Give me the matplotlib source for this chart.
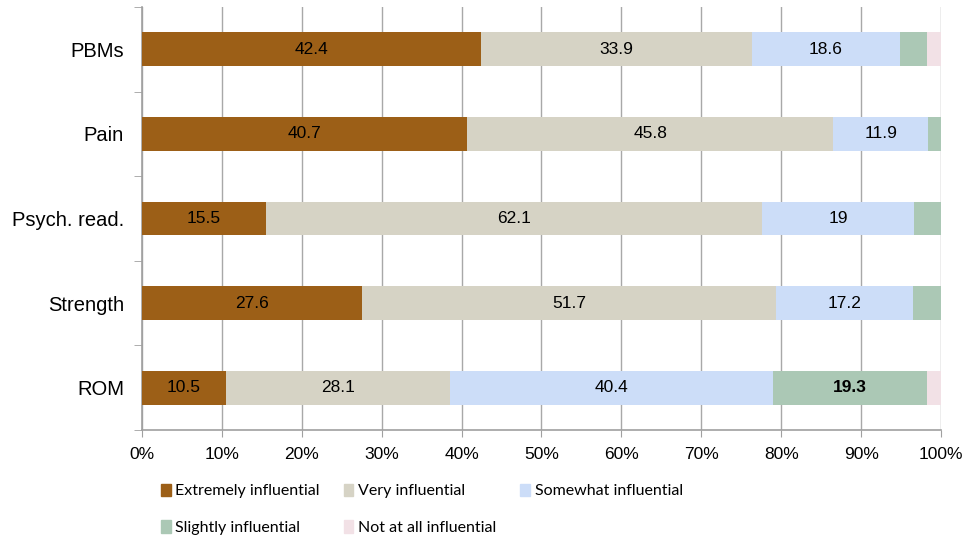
import numpy as np
import matplotlib.pyplot as plt
from matplotlib.patches import Patch

# categories, top to bottom
factors = ['PBMs', 'Pain', 'Psych. read.', 'Strength', 'ROM']
levels = ['Extremely influential', 'Very influential', 'Somewhat influential',
          'Slightly influential', 'Not at all influential']

extremely = [42.4, 40.7, 15.5, 27.6, 10.5]
very = [33.9, 45.8, 62.1, 51.7, 28.1]
somewhat = [18.6, 11.9, 19.0, 17.2, 40.4]
slightly = [3.4, 1.6, 3.4, 3.5, 19.3]
not_at_all = [1.7, 0.0, 0.0, 0.0, 1.7]

colors = ['#9C5F17', '#D6D3C5', '#CCDDF8', '#ABC8B5', '#F2E1E6']

plt.rcParams['font.family'] = ['Liberation Sans', 'DejaVu Sans']

fig = plt.figure(figsize=(9.71, 5.39), dpi=100)
ax = fig.add_axes([0.1462, 0.2022, 0.8229, 0.785])

y = np.arange(len(factors))
left = np.zeros(len(factors))
series = [extremely, very, somewhat, slightly, not_at_all]
for vals, col, name in zip(series, colors, levels):
    vals = np.array(vals)
    ax.barh(y, vals, left=left, height=0.4, color=col, label=name, zorder=3)
    for yi, v, l in zip(y, vals, left):
        if v >= 10:
            bold = name == 'Slightly influential'
            ax.text(l + v / 2, yi, f'{v:g}', ha='center', va='center',
                    fontsize=12.5, fontweight='bold' if bold else 'normal', zorder=4)
    left += vals

ax.set_xlim(0, 100)
ax.set_ylim(4.5, -0.5)
ax.set_xticks(np.arange(0, 101, 10))
ax.set_xticklabels([f'{t}%' for t in range(0, 101, 10)], fontsize=12.5)
ax.set_yticks(y)
ax.set_yticklabels(factors, fontsize=14.5)
ax.set_yticks(np.arange(-0.5, 5, 1), minor=True)
ax.tick_params(axis='y', which='major', length=0, pad=13)
ax.tick_params(axis='y', which='minor', length=6, color='#A0A0A0')
ax.tick_params(axis='x', length=5, color='#A0A0A0', pad=7)
ax.grid(axis='x', color='#A8A8A8', linewidth=1, zorder=0)
for s in ['top', 'right']:
    ax.spines[s].set_visible(False)
for s in ['left', 'bottom']:
    ax.spines[s].set_color('#A0A0A0')
    ax.spines[s].set_linewidth(1.2)

handles = [Patch(color=c, label=n) for c, n in zip(colors, levels)]
order = [0, 3, 1, 4, 2]
fig.legend([handles[i] for i in order], [levels[i] for i in order],
           loc='lower left', bbox_to_anchor=(0.151, -0.019), ncol=3, frameon=False,
           prop={'family': 'Lato', 'size': 11.5},
           handlelength=0.6, handleheight=0.85,
           handletextpad=0.3, columnspacing=1.5, labelspacing=1.35)

fig.savefig('out.png', dpi=100)
